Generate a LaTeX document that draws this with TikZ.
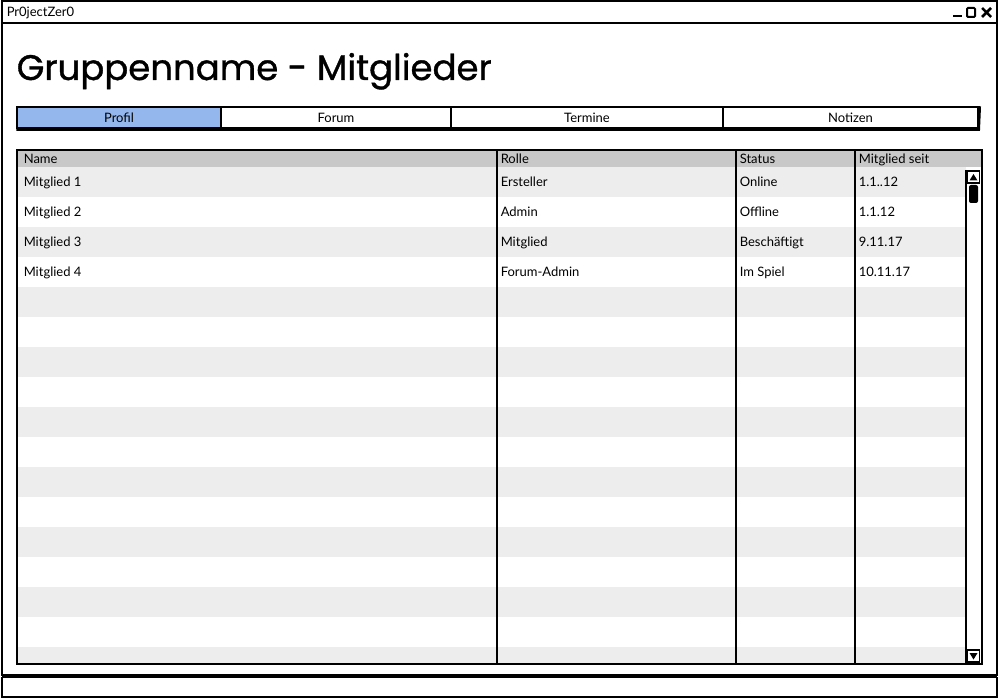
\documentclass[tikz,border=0pt]{standalone}
\usepackage{fontspec}
\setmainfont{Lato}
\newfontfamily\headfont[FakeBold=1]{Poppins}
\definecolor{tabblue}{HTML}{94B8EE}
\definecolor{headgray}{HTML}{C8C8C8}
\definecolor{rowgray}{HTML}{EDEDED}
\begin{document}
\begin{tikzpicture}[x = 1pt, y = -1pt, line width = 1.5pt,
                        tab/.style = {draw, fill = white, minimum height = 21pt, inner sep = 0pt,
                                      text height = 11pt, text depth = 1pt,
                                      font = \fontsize{13}{15}\selectfont},
                        cell/.style = {anchor = base west, inner sep = 0pt, font = \fontsize{13}{15}\selectfont}]
      \useasboundingbox (0, 0) rectangle (1000, 700);
      % window
      \draw [fill = white] (2, 1) rectangle (997, 675);
      \draw (2, 23) -- (997, 23);
      \node [cell] (title) at (6, 17){Pr0jectZer0};
      \draw [line width = 2.5pt] (953, 16) -- (962, 16);
      \draw [line width = 2pt, rounded corners = 1pt] (967, 8) rectangle (975, 17);
      \draw [line width = 2.5pt] (982, 8) -- (991, 17) (982, 17) -- (991, 8);
      \node [anchor = base west, inner sep = 0pt, font = \headfont\fontsize{35.5}{40}\selectfont] (head) at (16, 80){Gruppenname - Mitglieder};
      % tabs
      \node [tab, fill = tabblue, minimum width = 204pt] (t1) at (119, 117.5){Profil};
      \node [tab, minimum width = 230pt] (t2) at (336, 117.5){Forum};
      \node [tab, minimum width = 272pt] (t3) at (587, 117.5){Termine};
      \node [tab, minimum width = 255pt] (t4) at (850.5, 117.5){Notizen};
      \draw [line width = 2.5pt] ([yshift = -1pt]t1.south west) -- ([yshift = -1pt]t4.south east)
            -- ([xshift = 1pt]t4.north east);
      % table
      \fill [headgray] (17, 150) rectangle (982, 167);
      \foreach \r in {0, ..., 7}
        \fill [rowgray] (17, 167 + 60*\r) rectangle (966, 197 + 60*\r);
      \fill [rowgray] (17, 647) rectangle (966, 663);
      \foreach \x in {497, 736, 855}
        \draw (\x, 150) -- (\x, 664);
      \draw [line width = 2pt] (17, 150) rectangle (982, 664);
      \node [cell] (h1) at (23, 164){Name};
      \node [cell] (h2) at (500, 164){Rolle};
      \node [cell] (h3) at (739, 164){Status};
      \node [cell] (h4) at (858, 164){Mitglied seit};
      \foreach \n/\o/\s/\d [count = \i] in {Mitglied 1/Ersteller/Online/1.1..12,
                                           Mitglied 2/Admin/Offline/1.1.12,
                                           Mitglied 3/Mitglied/Beschäftigt/9.11.17,
                                           Mitglied 4/Forum-Admin/Im Spiel/10.11.17}{
        \node [cell] (n\i) at (23, 157 + 30*\i){\n};
        \node [cell] (r\i) at (500, 157 + 30*\i){\o};
        \node [cell] (s\i) at (739, 157 + 30*\i){\s};
        \node [cell] (d\i) at (858, 157 + 30*\i){\d};
      }
      % scrollbar
      \fill [white] (967, 168) rectangle (981, 663);
      \draw (966, 170) -- (966, 663);
      \draw [line width = 1.2pt] (967.5, 171) rectangle (979.5, 183);
      \fill (969.5, 180.5) -- (977.5, 180.5) -- (973.5, 174) -- cycle;
      \fill [rounded corners = 2pt] (969, 185) rectangle (978, 203);
      \draw [line width = 1.2pt] (967.5, 650) rectangle (979.5, 662);
      \fill (969.5, 653) -- (977.5, 653) -- (973.5, 659.5) -- cycle;
      % status bar
      \draw [fill = white] (2, 677.5) rectangle (997, 697);
      \draw [line width = 2.5pt] (2, 676) -- (997, 676);
    \end{tikzpicture}
\end{document}
